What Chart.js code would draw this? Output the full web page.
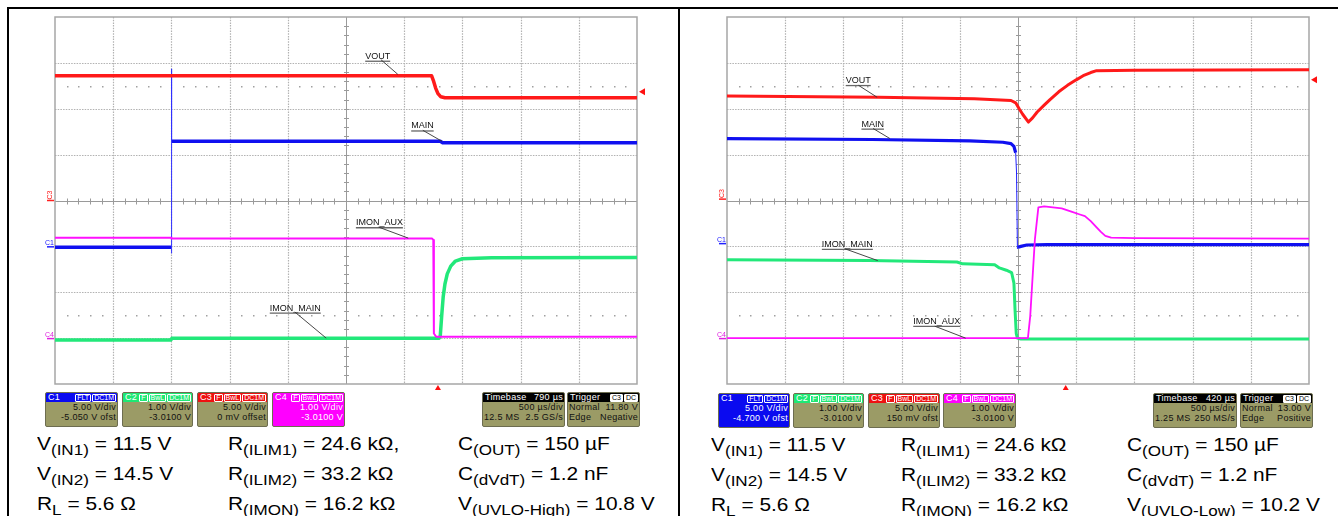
<!DOCTYPE html>
<html>
<head>
<meta charset="utf-8">
<script src="https://cdn.jsdelivr.net/npm/chart.js@4.4.1/dist/chart.umd.min.js"></script>
<style>
  html,body{margin:0;padding:0;background:#fff;}
  body{width:1338px;height:516px;position:relative;overflow:hidden;font-family:"Liberation Sans",Arial,sans-serif;}
  .ln{position:absolute;background:#000;}
  canvas{position:absolute;}
  .box{position:absolute;height:35px;border:1px solid #6d6d50;border-radius:2px;background:#9b9b66;box-sizing:border-box;overflow:hidden;font-size:9px;letter-spacing:0.3px;color:#111;}
  .hd{height:9px;line-height:9px;color:#fff;padding-left:2px;position:relative;white-space:nowrap;}
  .bgs{position:absolute;right:1px;top:0;letter-spacing:0;}
  .bg{display:inline-block;border:1px solid #fff;border-radius:1px;padding:0 1px;line-height:6px;font-size:7px;margin-left:1px;vertical-align:top;margin-top:0.5px;}
  .r{text-align:right;padding-right:1px;line-height:10px;white-space:nowrap;}
  .sp{display:flex;justify-content:space-between;padding:0 1px;line-height:10px;white-space:nowrap;}
  .row{position:absolute;font-size:19px;line-height:19px;color:#000;white-space:nowrap;transform:scaleX(1.1);transform-origin:0 0;}
  .row sub{font-size:15.5px;vertical-align:-5px;line-height:0;}
</style>
</head>
<body>
<div class="ln" style="left:7px;top:7px;width:1331px;height:2px;"></div>
<div class="ln" style="left:7px;top:7px;width:2px;height:509px;"></div>
<div class="ln" style="left:678px;top:7px;width:2px;height:509px;"></div>

<canvas id="left" width="668" height="382" style="left:10px;top:10px;"></canvas>
<canvas id="right" width="657" height="382" style="left:681px;top:10px;"></canvas>

<!-- left info boxes -->
<div class="box" style="left:45px;top:392px;width:73px;">
  <div class="hd" style="background:#0a0af0;">C1<span class="bgs"><span class="bg">FLT</span><span class="bg">DC1M</span></span></div>
  <div class="r">5.00 V/div</div><div class="r">-5.050 V ofst</div>
</div>
<div class="box" style="left:122px;top:392px;width:71px;">
  <div class="hd" style="background:#1ee874;">C2<span class="bgs"><span class="bg">F</span><span class="bg">BwL</span><span class="bg">DC1M</span></span></div>
  <div class="r">1.00 V/div</div><div class="r">-3.0100 V</div>
</div>
<div class="box" style="left:197px;top:392px;width:71px;">
  <div class="hd" style="background:#ee1111;">C3<span class="bgs"><span class="bg">F</span><span class="bg">BwL</span><span class="bg">DC1M</span></span></div>
  <div class="r">5.00 V/div</div><div class="r">0 mV offset</div>
</div>
<div class="box" style="left:272px;top:392px;width:73px;background:#ff00ff;color:#fff;">
  <div class="hd" style="background:#ff00ff;">C4<span class="bgs"><span class="bg">F</span><span class="bg">BwL</span><span class="bg">DC1M</span></span></div>
  <div class="r">1.00 V/div</div><div class="r">-3.0100 V</div>
</div>
<div class="box" style="left:482px;top:392px;width:83px;">
  <div class="hd" style="background:#000;display:flex;justify-content:space-between;padding-right:1px;"><span>Timebase</span><span>790 µs</span></div>
  <div class="r">500 µs/div</div><div class="sp"><span>12.5 MS</span><span>2.5 GS/s</span></div>
</div>
<div class="box" style="left:567px;top:392px;width:73px;">
  <div class="hd" style="background:#000;">Trigger<span class="bgs"><span class="bg" style="background:#fff;color:#000;">C3</span><span class="bg" style="background:#fff;color:#000;">DC</span></span></div>
  <div class="sp"><span>Normal</span><span>11.80 V</span></div><div class="sp"><span>Edge</span><span>Negative</span></div>
</div>

<!-- right info boxes -->
<div class="box" style="left:718px;top:393px;width:72px;background:#0a0af0;color:#fff;">
  <div class="hd" style="background:#0a0af0;">C1<span class="bgs"><span class="bg">FLT</span><span class="bg">DC1M</span></span></div>
  <div class="r">5.00 V/div</div><div class="r">-4.700 V ofst</div>
</div>
<div class="box" style="left:793px;top:393px;width:71px;">
  <div class="hd" style="background:#1ee874;">C2<span class="bgs"><span class="bg">F</span><span class="bg">BwL</span><span class="bg">DC1M</span></span></div>
  <div class="r">1.00 V/div</div><div class="r">-3.0100 V</div>
</div>
<div class="box" style="left:868px;top:393px;width:72px;">
  <div class="hd" style="background:#ee1111;">C3<span class="bgs"><span class="bg">F</span><span class="bg">BwL</span><span class="bg">DC1M</span></span></div>
  <div class="r">5.00 V/div</div><div class="r">150 mV ofst</div>
</div>
<div class="box" style="left:943px;top:393px;width:73px;">
  <div class="hd" style="background:#ff00ff;">C4<span class="bgs"><span class="bg">F</span><span class="bg">BwL</span><span class="bg">DC1M</span></span></div>
  <div class="r">1.00 V/div</div><div class="r">-3.0100 V</div>
</div>
<div class="box" style="left:1153px;top:393px;width:84px;">
  <div class="hd" style="background:#000;display:flex;justify-content:space-between;padding-right:1px;"><span>Timebase</span><span>420 µs</span></div>
  <div class="r">500 µs/div</div><div class="sp"><span>1.25 MS</span><span>250 MS/s</span></div>
</div>
<div class="box" style="left:1240px;top:393px;width:73px;">
  <div class="hd" style="background:#000;">Trigger<span class="bgs"><span class="bg" style="background:#fff;color:#000;">C3</span><span class="bg" style="background:#fff;color:#000;">DC</span></span></div>
  <div class="sp"><span>Normal</span><span>13.00 V</span></div><div class="sp"><span>Edge</span><span>Positive</span></div>
</div>

<!-- condition text -->
<div class="row" style="left:37px;top:434px;">V<sub>(IN1)</sub> = 11.5 V</div>
<div class="row" style="left:37px;top:464px;">V<sub>(IN2)</sub> = 14.5 V</div>
<div class="row" style="left:37px;top:494px;">R<sub>L</sub> = 5.6 Ω</div>
<div class="row" style="left:228px;top:434px;">R<sub>(ILIM1)</sub> = 24.6 kΩ,</div>
<div class="row" style="left:228px;top:464px;">R<sub>(ILIM2)</sub> = 33.2 kΩ</div>
<div class="row" style="left:228px;top:494px;">R<sub>(IMON)</sub> = 16.2 kΩ</div>
<div class="row" style="left:458px;top:434px;">C<sub>(OUT)</sub> = 150 µF</div>
<div class="row" style="left:458px;top:464px;">C<sub>(dVdT)</sub> = 1.2 nF</div>
<div class="row" style="left:458px;top:494px;">V<sub>(UVLO-High)</sub> = 10.8 V</div>

<div class="row" style="left:711px;top:435px;">V<sub>(IN1)</sub> = 11.5 V</div>
<div class="row" style="left:711px;top:465px;">V<sub>(IN2)</sub> = 14.5 V</div>
<div class="row" style="left:711px;top:495px;">R<sub>L</sub> = 5.6 Ω</div>
<div class="row" style="left:901px;top:435px;">R<sub>(ILIM1)</sub> = 24.6 kΩ</div>
<div class="row" style="left:901px;top:465px;">R<sub>(ILIM2)</sub> = 33.2 kΩ</div>
<div class="row" style="left:901px;top:495px;">R<sub>(IMON)</sub> = 16.2 kΩ</div>
<div class="row" style="left:1127px;top:435px;">C<sub>(OUT)</sub> = 150 µF</div>
<div class="row" style="left:1127px;top:465px;">C<sub>(dVdT)</sub> = 1.2 nF</div>
<div class="row" style="left:1127px;top:495px;">V<sub>(UVLO-Low)</sub> = 10.2 V</div>

<script>
// ---- Data: time in divisions (500 µs/div, 0..10), amplitude in screen divisions (-4..4) ----
// Left capture (transition from IN1 to IN2 / UVLO-High)
const leftVoutX   = [0, 6.47, 6.50, 6.54, 6.58, 6.63, 6.70, 10];
const leftVoutY   = [2.72, 2.72, 2.62, 2.45, 2.33, 2.26, 2.24, 2.24];
const leftMainX   = [0, 1.995, 2.0, 2.01, 6.62, 6.66, 10];
const leftMainY   = [-1.02, -1.02, null, 1.29, 1.29, 1.26, 1.26];
const leftSpikeX  = [2.0, 2.0, 2.0, 2.003, 2.01];
const leftSpikeY  = [-1.15, 2.87, 1.55, 1.35, 1.29];
const leftImonMainX = [0, 1.99, 2.01, 6.60, 6.62, 6.645, 6.67, 6.70, 6.74, 6.80, 6.88, 7.0, 7.5, 10];
const leftImonMainY = [-3.04, -3.04, -3.0, -3.0, -2.95, -2.5, -2.1, -1.82, -1.6, -1.43, -1.32, -1.27, -1.25, -1.24];
const leftImonAuxX  = [0, 2.0, 2.0, 6.48, 6.50, 6.51, 6.55, 10];
const leftImonAuxY  = [-0.81, -0.81, -0.83, -0.83, -0.86, -2.9, -2.97, -2.97];

// Right capture (transition back / UVLO-Low)
const rightVoutX = [0, 2.6, 4.25, 4.88, 4.96, 5.02, 5.08, 5.18, 5.25, 5.33, 5.45, 5.55, 5.70, 5.85, 6.0, 6.12, 6.25, 6.35, 7.0, 10];
const rightVoutY = [2.28, 2.25, 2.22, 2.18, 2.13, 2.0, 1.88, 1.71, 1.80, 1.93, 2.08, 2.20, 2.37, 2.51, 2.63, 2.72, 2.79, 2.83, 2.84, 2.85];
const rightMainX = [0, 2.5, 4.17, 4.74, 4.88, 4.93, 4.96, 4.975, 4.99, 5.0, 5.05, 5.15, 5.5, 10];
const rightMainY = [1.35, 1.33, 1.30, 1.27, 1.24, 1.18, 1.04, null, null, -1.02, -1.0, -0.97, -0.96, -0.96];
const rightDropX = [4.96, 4.975, 4.99, 5.0];
const rightDropY = [1.04, 0.6, -1.05, -1.02];
const rightImonMainX = [0, 2.44, 3.95, 4.05, 4.6, 4.68, 4.80, 4.89, 4.93, 4.95, 4.97, 4.99, 5.05, 10];
const rightImonMainY = [-1.29, -1.31, -1.34, -1.38, -1.40, -1.47, -1.52, -1.57, -1.8, -2.4, -2.9, -3.0, -3.02, -3.02];
const rightImonAuxX = [0, 5.17, 5.21, 5.29, 5.35, 5.45, 5.60, 5.75, 5.93, 6.05, 6.15, 6.25, 6.33, 6.42, 6.50, 6.60, 7.0, 10];
const rightImonAuxY = [-3.0, -3.0, -2.52, -0.85, -0.15, -0.13, -0.15, -0.17, -0.25, -0.30, -0.34, -0.45, -0.56, -0.68, -0.77, -0.81, -0.82, -0.83];

// Annotation labels: text, label anchor (div), leader start, leader end
const leftLabels = [
  {text:'VOUT',      x:5.33, y:3.09, x1:5.60, y1:3.07, x2:5.89, y2:2.75},
  {text:'MAIN',      x:6.12, y:1.57, x1:6.32, y1:1.53, x2:6.65, y2:1.29},
  {text:'IMON_AUX',  x:5.17, y:-0.54, x1:5.56, y1:-0.58, x2:6.07, y2:-0.82},
  {text:'IMON_MAIN', x:3.69, y:-2.40, x1:4.12, y1:-2.43, x2:4.66, y2:-3.0}
];
const rightLabels = [
  {text:'VOUT',      x:2.04, y:2.56, x1:2.26, y1:2.51, x2:2.58, y2:2.25},
  {text:'MAIN',      x:2.31, y:1.61, x1:2.51, y1:1.57, x2:2.80, y2:1.35},
  {text:'IMON_MAIN', x:1.63, y:-1.01, x1:2.02, y1:-1.05, x2:2.59, y2:-1.31},
  {text:'IMON_AUX',  x:3.20, y:-2.69, x1:3.57, y1:-2.74, x2:4.10, y2:-3.0}
];
// Channel offset markers (div) and trigger positions
const leftMarkers  = [{ch:'C3', y:0.0, c:'#ff2020', rot:true}, {ch:'C1', y:-1.01, c:'#2020ff'}, {ch:'C4', y:-3.01, c:'#e020e0'}];
const rightMarkers = [{ch:'C3', y:0.03, c:'#ff2020', rot:true}, {ch:'C1', y:-0.94, c:'#2020ff'}, {ch:'C4', y:-3.01, c:'#e020e0'}];
const leftTrigger  = {x:6.58, y:2.37};
const rightTrigger = {x:5.82, y:2.63};

const pts = (xs, ys) => xs.map((x, i) => ({x: x, y: ys[i]}));

const scopePlugin = {
  id: 'scope',
  beforeDatasetsDraw(chart) {
    const {ctx, chartArea: a, scales: {x, y}} = chart;
    const L = (x1, y1, x2, y2) => { ctx.beginPath(); ctx.moveTo(x1, y1); ctx.lineTo(x2, y2); ctx.stroke(); };
    ctx.save();
    ctx.strokeStyle = '#b2b2b2'; ctx.lineWidth = 1.2; ctx.setLineDash([1.5, 1.2]);
    for (let i = 1; i < 10; i++) { if (i === 5) continue; const px = Math.round(x.getPixelForValue(i)) + 0.5; L(px, a.top, px, a.bottom); }
    for (let j = -3; j <= 3; j++) { if (j === 0) continue; const py = Math.round(y.getPixelForValue(j)) + 0.5; L(a.left, py, a.right, py); }
    ctx.setLineDash([]);
    const cx = Math.round(x.getPixelForValue(5)) + 0.5, cy = Math.round(y.getPixelForValue(0)) + 0.5;
    ctx.strokeStyle = '#9a9a9a'; ctx.lineWidth = 1;
    L(cx, a.top, cx, a.bottom); L(a.left, cy, a.right, cy);
    for (let t = 1; t < 50; t++) { const px = Math.round(x.getPixelForValue(t * 0.2)) + 0.5; L(px, cy - 3, px, cy + 3); }
    for (let t = -19; t < 20; t++) { const py = Math.round(y.getPixelForValue(t * 0.2)) + 0.5; L(cx - 2.5, py, cx + 2.5, py); }
    ctx.fillStyle = '#a0a0a0';
    for (const v of [2.5, -2.5]) {
      const py = Math.round(y.getPixelForValue(v));
      for (let t = 1; t < 50; t++) { if (t % 5 === 0) continue; const px = Math.round(x.getPixelForValue(t * 0.2)); ctx.fillRect(px, py, 1.5, 1.5); }
    }
    ctx.strokeStyle = '#a6a6a6'; ctx.lineWidth = 1.5;
    ctx.strokeRect(a.left, a.top, a.width, a.height);
    ctx.restore();
  },
  afterDatasetsDraw(chart, args, opts) {
    const {ctx, chartArea: a, scales: {x, y}} = chart;
    ctx.save();
    ctx.font = '9px "Liberation Sans", Arial';
    ctx.textBaseline = 'alphabetic';
    for (const lb of opts.labels) {
      const px = x.getPixelForValue(lb.x), py = y.getPixelForValue(lb.y);
      ctx.fillStyle = '#111'; ctx.fillText(lb.text, px, py);
      const w = ctx.measureText(lb.text).width;
      ctx.strokeStyle = '#666'; ctx.lineWidth = 1.3;
      ctx.beginPath(); ctx.moveTo(px, py + 2.5); ctx.lineTo(px + w, py + 2.5); ctx.stroke();
      ctx.strokeStyle = '#333'; ctx.lineWidth = 0.9;
      ctx.beginPath(); ctx.moveTo(x.getPixelForValue(lb.x1), y.getPixelForValue(lb.y1)); ctx.lineTo(x.getPixelForValue(lb.x2), y.getPixelForValue(lb.y2)); ctx.stroke();
    }
    ctx.font = '7px "Liberation Sans", Arial';
    for (const m of opts.markers) {
      const py = y.getPixelForValue(m.y);
      ctx.strokeStyle = m.c; ctx.fillStyle = m.c; ctx.lineWidth = 1.5;
      ctx.beginPath(); ctx.moveTo(a.left - 8, py); ctx.lineTo(a.left - 1, py); ctx.stroke();
      if (m.rot) {
        ctx.save(); ctx.translate(a.left - 3, py - 1); ctx.rotate(-Math.PI / 2); ctx.fillText(m.ch, 0, 0); ctx.restore();
      } else {
        ctx.fillText(m.ch, a.left - 10, py - 2);
      }
    }
    ctx.fillStyle = '#ff1010';
    const tx = x.getPixelForValue(opts.trig.x);
    ctx.beginPath(); ctx.moveTo(tx, a.bottom + 1); ctx.lineTo(tx - 3, a.bottom + 6); ctx.lineTo(tx + 3, a.bottom + 6); ctx.closePath(); ctx.fill();
    const ty = y.getPixelForValue(opts.trig.y);
    ctx.beginPath(); ctx.moveTo(a.right + 2, ty); ctx.lineTo(a.right + 8, ty - 3.5); ctx.lineTo(a.right + 8, ty + 3.5); ctx.closePath(); ctx.fill();
    ctx.restore();
  }
};

function ds(data, color, w) {
  return {data: data, borderColor: color, borderWidth: w, pointRadius: 0, tension: 0, spanGaps: false, fill: false};
}

function makeChart(id, datasets, pad, labels, markers, trig) {
  new Chart(document.getElementById(id), {
    type: 'line',
    data: {datasets: datasets},
    options: {
      responsive: false, animation: false, devicePixelRatio: 1,
      layout: {padding: pad},
      scales: {
        x: {type: 'linear', min: 0, max: 10, display: false},
        y: {type: 'linear', min: -4, max: 4, display: false}
      },
      plugins: {legend: {display: false}, tooltip: {enabled: false},
        scope: {labels: labels, markers: markers, trig: trig}},
      elements: {line: {borderJoinStyle: 'round', borderCapStyle: 'butt'}}
    },
    plugins: [scopePlugin]
  });
}

makeChart('left', [
  ds(pts(leftImonAuxX, leftImonAuxY), '#ff10ff', 2),
  ds(pts(leftVoutX, leftVoutY), '#ff1a1a', 3.5),
  ds(pts(leftSpikeX, leftSpikeY), '#3030ff', 1),
  ds(pts(leftMainX, leftMainY), '#1010f0', 3.5),
  ds(pts(leftImonMainX, leftImonMainY), '#22e87a', 3.5)
], {left: 45, right: 41, top: 7, bottom: 8}, leftLabels, leftMarkers, leftTrigger);

makeChart('right', [
  ds(pts(rightVoutX, rightVoutY), '#ff1a1a', 3),
  ds(pts(rightImonAuxX, rightImonAuxY), '#ff10ff', 1.8),
  ds(pts(rightDropX, rightDropY), '#2020ff', 1),
  ds(pts(rightMainX, rightMainY), '#1010f0', 3.2),
  ds(pts(rightImonMainX, rightImonMainY), '#22e87a', 3)
], {left: 46, right: 29, top: 7, bottom: 8}, rightLabels, rightMarkers, rightTrigger);
</script>
</body>
</html>
